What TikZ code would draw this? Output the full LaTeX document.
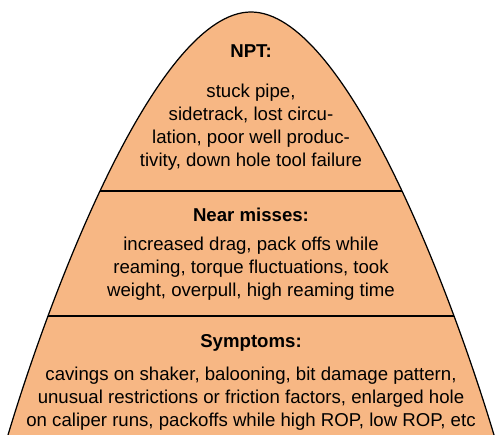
\documentclass[tikz,border=0pt]{standalone}
\usepackage{fontspec}
\setmainfont{Liberation Sans}
\definecolor{naranja}{RGB}{247,183,132}
\newcommand{\perfil}{(8,435) .. controls (53,285) and (158,12) .. (251,12) .. controls (344,12) and (449,285) .. (494,435)}
\begin{document}
\begin{tikzpicture}[x=0.02cm,y=-0.02cm,
    titulo/.style={font=\fontsize{10.6}{13}\selectfont\bfseries, inner sep=0pt, anchor=base},
    texto/.style={font=\fontsize{10.6}{13}\selectfont, align=center, inner sep=0pt}]
        \useasboundingbox (0,0) rectangle (496,435);
        % Campana
        \fill[naranja] \perfil -- cycle;
        \begin{scope}
            \clip \perfil -- cycle;
            \draw[line width=0.6pt] (0,191) -- (496,191);
            \draw[line width=0.6pt] (0,316) -- (496,316);
        \end{scope}
        \draw[line width=0.7pt] \perfil;
        % Textos
        \node[titulo] (npt) at (251,58) {NPT:};
        \node[texto] (nptTxt) at (251,127) {stuck pipe,\\sidetrack, lost circu-\\lation, poor well produc-\\tivity, down hole tool failure};
        \node[titulo] (casi) at (251,222) {Near misses:};
        \node[texto] (casiTxt) at (251,269) {increased drag, pack offs while\\reaming, torque fluctuations, took\\weight, overpull, high reaming time};
        \node[titulo] (sint) at (251,347) {Symptoms:};
        \node[texto] (sintTxt) at (251,399) {cavings on shaker, balooning, bit damage pattern,\\unusual restrictions or friction factors, enlarged hole\\on caliper runs, packoffs while high ROP, low ROP, etc};
    \end{tikzpicture}
\end{document}
